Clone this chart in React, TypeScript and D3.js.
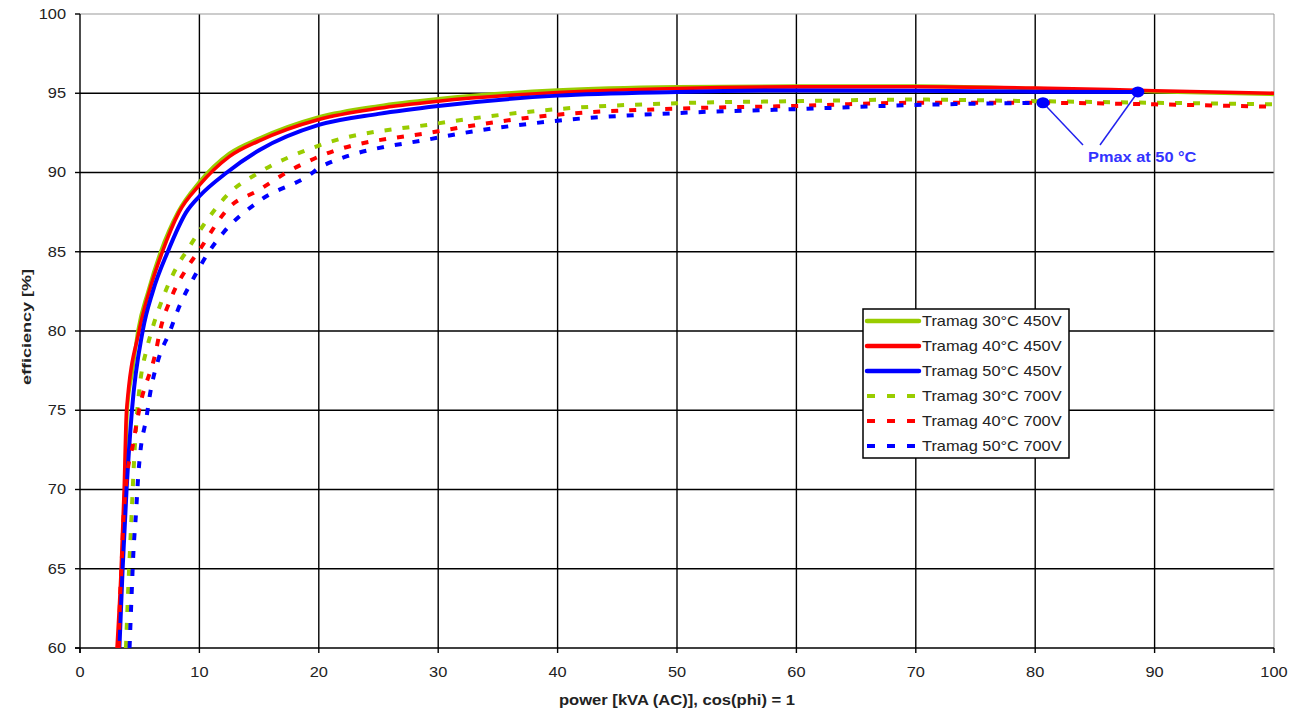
import React from "react";
import * as d3 from "d3";

// power [kVA] / efficiency [%]
const green450X = [3.2, 3.5, 3.75, 3.95, 4.4, 4.85, 5.7, 6.75, 8.2, 10, 12.5, 15, 20, 25, 30, 40, 50, 60, 70, 80, 90, 100];
const green450Y = [60, 65, 70, 75, 77.5, 80, 82.5, 85, 87.5, 89.4, 91.2, 92.15, 93.5, 94.2, 94.65, 95.2, 95.4, 95.45, 95.45, 95.3, 95.1, 94.93];

const red450X = [3.1, 3.45, 3.7, 3.9, 4.95, 5.8, 6.9, 8.3, 10, 12.5, 15, 20, 25, 30, 40, 50, 60, 70, 80, 90, 100];
const red450Y = [60, 65, 70, 75, 80, 82.5, 85, 87.5, 89.2, 91.0, 92.0, 93.35, 94.05, 94.5, 95.05, 95.3, 95.4, 95.41, 95.33, 95.16, 95.0];

const blue450X = [3.3, 3.57, 3.9, 4.35, 5.25, 6.1, 7.35, 8.9, 10, 12.3, 15, 20, 25, 30, 40, 50, 60, 70, 80, 88.6];
const blue450Y = [60, 65, 70, 75, 80, 82.5, 85, 87.5, 88.5, 90, 91.4, 93.0, 93.7, 94.2, 94.85, 95.08, 95.18, 95.16, 95.1, 95.08];

const green700X = [3.85, 4.05, 4.2, 4.35, 4.5, 4.7, 5.0, 5.6, 6.0, 7.0, 8.3, 8.9, 10, 12.5, 15, 20, 30, 40, 50, 60, 70, 80, 90, 100];
const green700Y = [60, 63.9, 66.4, 68.9, 71.4, 74, 76.5, 78.9, 80, 82.2, 84.3, 85, 86.3, 88.7, 90, 91.7, 93.1, 94.0, 94.37, 94.5, 94.6, 94.5, 94.4, 94.3];

const red700X = [3.25, 3.35, 3.5, 3.63, 3.9, 4.45, 5.0, 6.35, 6.7, 7.7, 9.07, 9.9, 12.5, 15, 17.3, 20, 30, 40, 50, 60, 70, 80, 90, 100];
const red700Y = [60, 63, 65.5, 68, 70.6, 72.9, 75.2, 78.7, 80, 82.2, 84.1, 85, 87.8, 88.9, 90, 91.0, 92.6, 93.65, 94.03, 94.2, 94.4, 94.4, 94.3, 94.15];

const blue700X = [4.15, 4.33, 4.47, 4.69, 4.89, 5.03, 5.58, 5.86, 6.56, 7.54, 8.18, 9.63, 10.8, 12.0, 15, 19.5, 20, 30, 40, 50, 60, 70, 80.65];
const blue700Y = [60, 63.5, 66, 68.5, 71, 72.2, 74.6, 76, 78.2, 80, 81.3, 83.5, 85, 86.2, 88.2, 90, 90.3, 92.2, 93.27, 93.75, 94.0, 94.26, 94.4];

const seriesNames = [
  "Tramag 30°C 450V",
  "Tramag 40°C 450V",
  "Tramag 50°C 450V",
  "Tramag 30°C 700V",
  "Tramag 40°C 700V",
  "Tramag 50°C 700V",
];
const seriesX = [green450X, red450X, blue450X, green700X, red700X, blue700X];
const seriesY = [green450Y, red450Y, blue450Y, green700Y, red700Y, blue700Y];
const seriesColors = ["#99cc00", "#ff0000", "#0000ff", "#99cc00", "#ff0000", "#0000ff"];
const seriesDashed = [false, false, false, true, true, true];

const xTicks = [0, 10, 20, 30, 40, 50, 60, 70, 80, 90, 100];
const yTicks = [60, 65, 70, 75, 80, 85, 90, 95, 100];

const FONT = "'Liberation Sans', Arial, sans-serif";
const STRETCH = 1.17; // the picture's text is a bit wider than plain Arial

// text placed at (x, y) and widened horizontally
const Wide = ({ x, y, anchor = "start", size = 14, bold = false, fill = "#222", children }: any) => (
  <text transform={`translate(${x},${y}) scale(${STRETCH},1)`} dy="0.35em" textAnchor={anchor}
    fontFamily={FONT} fontSize={size} fontWeight={bold ? "bold" : "normal"} fill={fill}>
    {children}
  </text>
);

const App = () => {
  const left = 80, right = 1274, top = 14, bottom = 648;
  const x = d3.scaleLinear().domain([0, 100]).range([left, right]);
  const y = d3.scaleLinear().domain([60, 100]).range([bottom, top]);

  const line = d3.line<[number, number]>()
    .x(d => x(d[0]))
    .y(d => y(d[1]))
    .curve(d3.curveMonotoneX);

  const pts = seriesX.map((xs, i) => xs.map((v, j) => [v, seriesY[i][j]] as [number, number]));

  // Pmax markers = end of the 50°C curves
  const pSolid = pts[2][pts[2].length - 1];
  const pDash = pts[5][pts[5].length - 1];

  const legendRows = [321, 346, 371, 396, 421, 446];

  return (
    <svg width={1290} height={712} style={{ position: "absolute", left: 0, top: 0, background: "#fff" }}>
      <defs>
        <clipPath id="plot">
          <rect x={left} y={top} width={right - left} height={bottom - top} />
        </clipPath>
      </defs>
      <rect x={0} y={0} width={1290} height={712} fill="#fff" />

      {/* grid */}
      {xTicks.slice(1, -1).map(t => (
        <line key={"gx" + t} x1={x(t)} x2={x(t)} y1={top} y2={bottom} stroke="#000" strokeWidth={1.4} />
      ))}
      {yTicks.slice(1, -1).map(t => (
        <line key={"gy" + t} x1={left} x2={right} y1={y(t)} y2={y(t)} stroke="#000" strokeWidth={1.4} />
      ))}
      <line x1={left} x2={right} y1={top} y2={top} stroke="#999" strokeWidth={1} />
      <line x1={right} x2={right} y1={top} y2={bottom} stroke="#999" strokeWidth={1} />

      {/* axes */}
      <line x1={left} x2={left} y1={top} y2={bottom + 5} stroke="#000" strokeWidth={1.4} />
      <line x1={left - 5} x2={right} y1={bottom} y2={bottom} stroke="#000" strokeWidth={1.4} />
      {yTicks.map(t => (
        <g key={"ty" + t}>
          <line x1={left - 5} x2={left} y1={y(t)} y2={y(t)} stroke="#000" strokeWidth={1.4} />
          <Wide x={left - 14} y={y(t)} anchor="end">{t}</Wide>
        </g>
      ))}
      {xTicks.map(t => (
        <g key={"tx" + t}>
          <line x1={x(t)} x2={x(t)} y1={bottom} y2={bottom + 5} stroke="#000" strokeWidth={1.4} />
          <Wide x={x(t)} y={672} anchor="middle">{t}</Wide>
        </g>
      ))}
      <text x={677} y={700} dy="0.35em" textAnchor="middle" fontFamily={FONT} fontSize={14} fontWeight="bold" fill="#222"
        textLength={236} lengthAdjust="spacingAndGlyphs">
        power [kVA (AC)], cos(phi) = 1
      </text>
      <text transform="translate(26,327) rotate(-90)" dy="0.35em" textAnchor="middle" fontFamily={FONT} fontSize={13} fontWeight="bold" fill="#222"
        textLength={116} lengthAdjust="spacingAndGlyphs">
        efficiency [%]
      </text>

      {/* curves */}
      <g clipPath="url(#plot)">
        {pts.map((p, i) => (
          <path key={"s" + i} d={line(p) || ""} fill="none" stroke={seriesColors[i]}
            strokeWidth={seriesDashed[i] ? 4 : (i === 2 ? 4 : 3.6)}
            strokeDasharray={seriesDashed[i] ? "7 11" : undefined} />
        ))}
      </g>

      {/* Pmax annotation */}
      <line x1={x(pDash[0])} y1={y(pDash[1])} x2={1083} y2={145} stroke="#2222ee" strokeWidth={1.5} />
      <line x1={x(pSolid[0])} y1={y(pSolid[1])} x2={1100} y2={145} stroke="#2222ee" strokeWidth={1.5} />
      <ellipse cx={x(pDash[0])} cy={y(pDash[1])} rx={6.5} ry={5.5} fill="#0000ff" />
      <ellipse cx={x(pSolid[0])} cy={y(pSolid[1])} rx={6.5} ry={5.5} fill="#0000ff" />
      <Wide x={1088} y={157} bold fill="#3333ff">Pmax at 50 °C</Wide>

      {/* legend */}
      <rect x={863} y={309} width={206} height={149} fill="#fff" stroke="#000" strokeWidth={1.5} />
      {seriesNames.map((n, i) => (
        <g key={"l" + i}>
          <line x1={867} x2={919} y1={legendRows[i]} y2={legendRows[i]} stroke={seriesColors[i]}
            strokeWidth={seriesDashed[i] ? 4 : 4.5} strokeDasharray={seriesDashed[i] ? "8 12" : undefined}
            strokeLinecap={seriesDashed[i] ? "butt" : "round"} />
          <Wide x={922} y={legendRows[i]}>{n}</Wide>
        </g>
      ))}
    </svg>
  );
};

export default App;
